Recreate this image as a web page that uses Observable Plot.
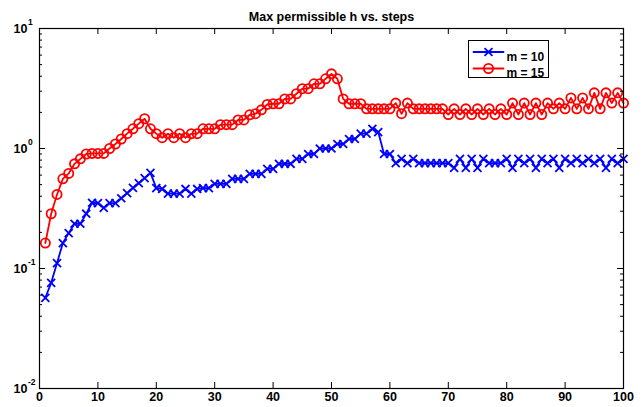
<!DOCTYPE html>
<html><head><meta charset="utf-8">
<script src="https://cdn.jsdelivr.net/npm/d3@7"></script>
<script src="https://cdn.jsdelivr.net/npm/@observablehq/plot@0.6"></script>
<style>body{margin:0;background:#fff;} svg{display:block}</style>
</head><body><div id="chart"></div>
<script>
const steps = d3.range(1, 101);
const m10 = [0.057,0.076,0.111,0.163,0.197,0.236,0.236,0.286,0.353,0.35,
  0.32,0.35,0.35,0.385,0.424,0.47,0.514,0.566,0.627,0.467,
  0.46,0.42,0.42,0.42,0.46,0.42,0.46,0.467,0.467,0.508,
  0.508,0.508,0.559,0.559,0.559,0.615,0.615,0.615,0.677,0.677,
  0.746,0.746,0.746,0.82,0.82,0.90,0.90,1.0,1.0,1.0,
  1.09,1.09,1.2,1.2,1.33,1.33,1.46,1.37,0.90,0.90,
  0.754,0.82,0.754,0.82,0.754,0.754,0.754,0.754,0.754,0.754,
  0.69,0.82,0.69,0.82,0.69,0.82,0.754,0.754,0.754,0.82,
  0.69,0.82,0.754,0.82,0.69,0.82,0.754,0.82,0.69,0.82,
  0.754,0.82,0.754,0.82,0.754,0.82,0.69,0.82,0.754,0.82];
const m15 = [0.163,0.286,0.414,0.559,0.62,0.745,0.82,0.90,0.91,0.91,
  0.91,1.0,1.09,1.2,1.33,1.46,1.61,1.77,1.46,1.33,
  1.23,1.33,1.23,1.33,1.23,1.33,1.33,1.46,1.46,1.46,
  1.58,1.58,1.58,1.73,1.73,1.91,1.95,2.10,2.33,2.36,
  2.36,2.59,2.59,2.86,3.15,3.15,3.46,3.46,3.81,4.19,
  3.81,2.59,2.36,2.36,2.36,2.14,2.14,2.14,2.14,2.14,
  2.39,1.95,2.39,2.14,2.14,2.14,2.14,2.14,2.14,1.92,
  2.14,1.92,2.14,1.92,2.14,1.92,2.14,1.92,2.14,1.92,
  2.39,1.92,2.39,1.92,2.39,1.92,2.39,2.14,2.39,2.14,
  2.64,2.14,2.64,2.14,2.91,2.14,2.91,2.39,2.91,2.39];
const xTicks = [0,10,20,30,40,50,60,70,80,90,100];
const yMajor = [0.01,0.1,1,10];
const yExponents = ["-2","-1","0","1"];
const yMinor = [0.02,0.03,0.04,0.05,0.06,0.07,0.08,0.09,
  0.2,0.3,0.4,0.5,0.6,0.7,0.8,0.9,2,3,4,5,6,7,8,9];
const seriesNames = ["m = 10","m = 15"];
const title = "Max permissible h vs. steps";

const W = 642, H = 407, ML = 39, MR = 19, MT = 28, MB = 19;
const PW = W - ML - MR, PH = H - MT - MB;
const BLUE = "#0000ff", RED = "#ff0000";
const font = "'Liberation Sans', Arial, Helvetica, sans-serif";
const FS = 12.5;
const LW = 1.8;
const RX = 3.7, RO = 4.6;

const data10 = steps.map((s, i) => ({step: s, h: m10[i]}));
const data15 = steps.map((s, i) => ({step: s, h: m15[i]}));

const lineShape = {draw(context, l) { context.moveTo(0, 0); context.lineTo(0, -l); }};
const legendRows = [
  {name: seriesNames[0], color: BLUE, symbol: "times", r: RX, dy: 23.5},
  {name: seriesNames[1], color: RED, symbol: "circle", r: RO, dy: 40}
];
const legendMarks = legendRows.flatMap(row => [
  Plot.vector([row], {frameAnchor: "top-left", dx: 449, dy: row.dy, length: 30, rotate: 90,
    anchor: "middle", shape: lineShape, stroke: row.color, strokeWidth: LW}),
  Plot.dot([row], {frameAnchor: "top-left", dx: 449, dy: row.dy, symbol: row.symbol, r: row.r,
    stroke: row.color, fill: "none", strokeWidth: LW}),
  Plot.text([row], {frameAnchor: "top-left", dx: 467, dy: row.dy, text: d => d.name,
    textAnchor: "start", fontWeight: "bold", fontSize: 12, fill: "black"})
]);

const chart = Plot.plot({
  width: W, height: H,
  marginLeft: ML, marginRight: MR, marginTop: MT, marginBottom: MB,
  style: {fontFamily: font, background: "white", color: "black", overflow: "visible"},
  x: {domain: [0, 100], axis: null},
  y: {type: "log", domain: [0.01, 10], axis: null},
  marks: [
    Plot.line(data10, {x: "step", y: "h", stroke: BLUE, strokeWidth: LW}),
    Plot.dot(data10, {x: "step", y: "h", symbol: "times", r: RX, stroke: BLUE, strokeWidth: LW}),
    Plot.line(data15, {x: "step", y: "h", stroke: RED, strokeWidth: LW}),
    Plot.dot(data15, {x: "step", y: "h", symbol: "circle", r: RO, stroke: RED, fill: "none", strokeWidth: LW}),
    Plot.tickY(yMajor, {y: d => d, insetRight: PW - 6, stroke: "black"}),
    Plot.tickY(yMajor, {y: d => d, insetLeft: PW - 6, stroke: "black"}),
    Plot.tickY(yMinor, {y: d => d, insetRight: PW - 3, stroke: "black"}),
    Plot.tickY(yMinor, {y: d => d, insetLeft: PW - 3, stroke: "black"}),
    Plot.tickX(xTicks, {x: d => d, insetTop: PH - 6, stroke: "black"}),
    Plot.tickX(xTicks, {x: d => d, insetBottom: PH - 6, stroke: "black"}),
    Plot.frame({stroke: "black", strokeWidth: 1.2}),
    Plot.frame({insetLeft: 429, insetRight: 75, insetTop: 12, insetBottom: 311, fill: "white", stroke: "black"}),
    ...legendMarks,
    Plot.axisX({ticks: xTicks, tickSize: 0, tickPadding: 4, fontWeight: "bold", fontSize: FS,
      tickFormat: d => String(d), fill: "black", label: null}),
    Plot.text(yMajor, {y: d => d, frameAnchor: "left", text: () => "10", dx: -12,
      textAnchor: "end", fontWeight: "bold", fontSize: FS, fill: "black"}),
    Plot.text(yMajor, {y: d => d, frameAnchor: "left", text: (d, i) => yExponents[i], dx: -11.5, dy: -6,
      textAnchor: "start", fontWeight: "bold", fontSize: 8.5, fill: "black"}),
    Plot.text([title], {frameAnchor: "top", dy: -16, text: d => d, fontWeight: "bold", fontSize: FS, fill: "black"})
  ]
});
document.getElementById("chart").appendChild(chart);
</script>
</body></html>
